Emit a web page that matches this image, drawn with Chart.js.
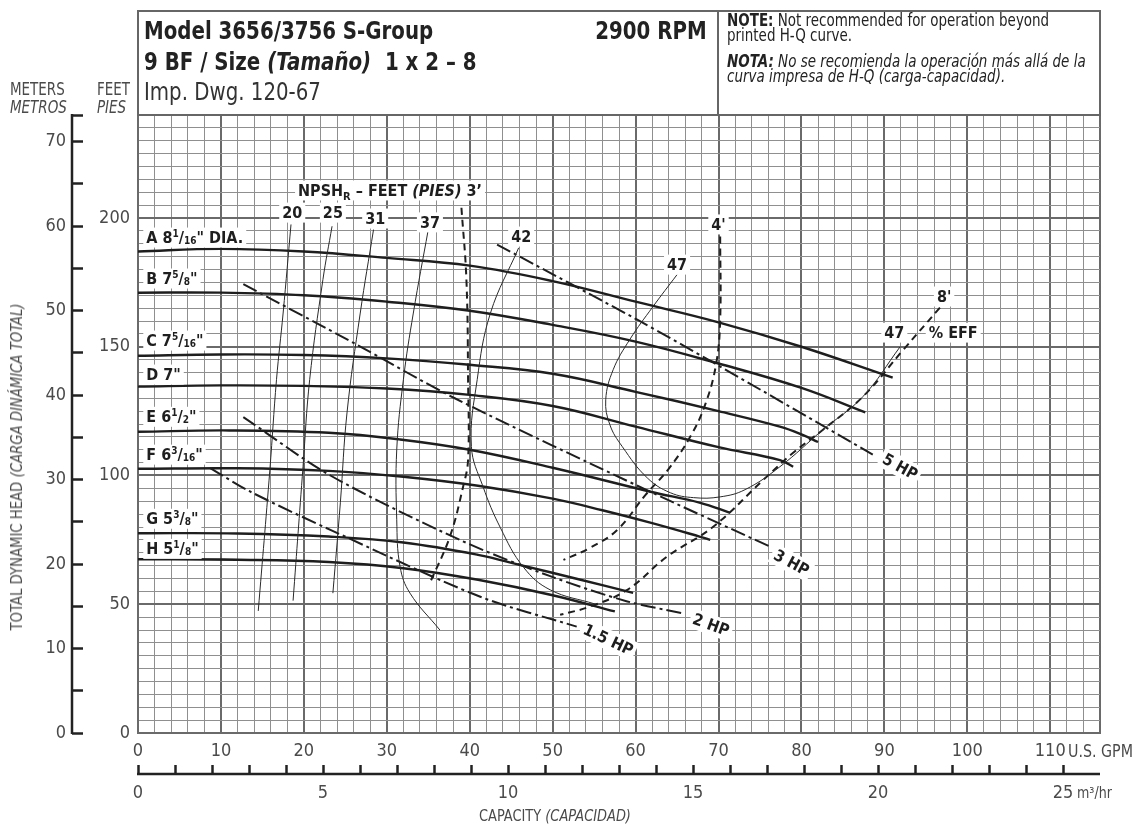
<!DOCTYPE html>
<html>
<head>
<meta charset="utf-8">
<title>Model 3656/3756 S-Group pump curve</title>
<script src="https://cdn.jsdelivr.net/npm/chart.js@4.4.1/dist/chart.umd.min.js"></script>
<style>
  body { margin: 0; background: #fff; }
  #wrap { position: relative; width: 1133px; height: 828px; color: #222;
          font-family: 'Liberation Sans Narrow', 'DejaVu Sans Condensed', 'Roboto', sans-serif; }
  #wrap canvas { position: absolute; left: 0; top: 0; }
  .t { position: absolute; white-space: nowrap; line-height: 1; transform-origin: left center; }
  .n { transform: scaleX(0.88); }
  .box { position: absolute; border: 2px solid #666; box-sizing: border-box; }
  .ax { color: #4a4a4a; }
</style>
</head>
<body>
<div id="wrap">
  <canvas id="pumpChart" width="1133" height="828"></canvas>

  <div class="box" style="left:137px;top:10px;width:964px;height:106px;"></div>
  <div class="box" style="left:717px;top:10px;width:2px;height:106px;border-width:0 0 0 2px;"></div>

  <div class="t n" style="left:144px;top:18px;font-size:25px;font-weight:bold;">Model 3656/3756 S-Group</div>
  <div class="t n" style="right:426px;top:18px;font-size:25px;font-weight:bold;transform-origin:right center;">2900 RPM</div>
  <div class="t n" style="left:144px;top:49px;font-size:25px;font-weight:bold;">9 BF / Size <i>(Tamaño)</i>&nbsp; 1 x 2 – 8</div>
  <div class="t n" style="left:144px;top:79px;font-size:25px;color:#333;">Imp. Dwg. 120-67</div>

  <div class="t n" style="left:727px;top:12px;font-size:17px;"><b>NOTE:</b> Not recommended for operation beyond</div>
  <div class="t n" style="left:727px;top:27px;font-size:17px;">printed H-Q curve.</div>
  <div class="t n" style="left:727px;top:53px;font-size:17px;font-style:italic;"><b>NOTA:</b> No se recomienda la operación más allá de la</div>
  <div class="t n" style="left:727px;top:68px;font-size:17px;font-style:italic;">curva impresa de H-Q (carga-capacidad).</div>

  <div class="t n ax" style="left:10px;top:81px;font-size:17px;">METERS</div>
  <div class="t n ax" style="left:10px;top:99px;font-size:17px;font-style:italic;">METROS</div>
  <div class="t n ax" style="left:97px;top:81px;font-size:17px;">FEET</div>
  <div class="t n ax" style="left:97px;top:99px;font-size:17px;font-style:italic;">PIES</div>

  <div class="t ax" style="left:17px;top:467px;font-size:16px;transform-origin:center;transform:translate(-50%,-50%) rotate(-90deg) scaleX(0.92);">TOTAL DYNAMIC HEAD <i>(CARGA DINÁMICA TOTAL)</i></div>
  <div class="t n ax" style="left:1068px;top:742px;font-size:18px;">U.S. GPM</div>
  <div class="t n ax" style="left:1077px;top:785px;font-size:16px;">m³/hr</div>
  <div class="t ax" style="left:555px;top:808px;font-size:16px;transform-origin:center;transform:translateX(-50%) scaleX(0.9);">CAPACITY <i>(CAPACIDAD)</i></div>
</div>

<script>
// impeller head curves, [US GPM, feet]
var headA = [[0, 187], [10, 188], [20, 187], [30, 184.5], [40, 181.5], [50, 175.5], [60, 167.5], [70, 159.5], [80, 150], [91, 138]];
var headB = [[0, 171], [10, 171], [20, 170], [30, 167.5], [40, 164], [50, 158.5], [60, 152], [70, 143.5], [80, 134], [87.7, 124.5]];
var headC = [[0, 146.5], [10, 147], [20, 146.8], [30, 145.5], [40, 143], [50, 139.5], [60, 132.5], [70, 125], [77.4, 119], [80, 116], [82, 113]];
var headD = [[0, 134.5], [10, 135], [20, 134.8], [30, 133.8], [40, 131.3], [50, 127], [60, 119], [70, 111], [77.4, 106], [79, 103.4]];
var headE = [[0, 117], [11, 117.5], [23, 116.6], [31.6, 114], [40, 110], [50, 103], [61.8, 93.7], [67.8, 89.4], [71.4, 85.5]];
var headF = [[0, 102.6], [12, 102.8], [23, 101.8], [32, 99.5], [41, 96], [50, 91], [56, 86.5], [62, 81.5], [67.8, 76.2], [69, 75]];
var headG = [[0, 77.6], [12, 77.5], [23, 76.3], [32, 74], [41, 69.2], [46.4, 65], [53, 59.8], [59.7, 54.4]];
var headH = [[0, 67.5], [12, 67.3], [23, 66.4], [32, 64], [41, 59.5], [50, 53.5], [57.5, 47.2]];

// horsepower lines
var hp5 = [[43.3, 189.7], [60.2, 160.5], [69.4, 143.8], [88.6, 108.1]];
var hp3 = [[12.7, 174.3], [26.4, 150.8], [38.2, 130], [61.3, 94.4], [76.2, 72.4]];
var hp2 = [[12.7, 122.7], [23.2, 100], [38.8, 75], [49.7, 60.9], [59, 51.1], [65.7, 46.5]];
var hp15 = [[8.7, 102.9], [13.5, 93.8], [23.2, 78.9], [41.2, 53], [52.9, 41.3]];

// efficiency curves (%)
var eff20 = [[18.45, 197.5], [17.5, 163.1], [16.7, 137.2], [15.9, 102.2], [14.5, 47.4]];
var eff25 = [[23.4, 196.8], [22.3, 176.1], [20.7, 137.2], [19.9, 103.5], [18.7, 51.4]];
var eff31 = [[28.4, 195.5], [26.8, 163.1], [25.2, 124.3], [24.4, 89.4], [23.5, 54.3]];
var eff37 = [[35, 195.5], [33.2, 163.1], [32, 137.2], [31.2, 110], [31.2, 82.8], [31.6, 64.6], [32.8, 54.3], [36.4, 40]];
var eff42 = [[45.9, 188.4], [42.5, 163.1], [40.9, 137.2], [40.2, 111.3], [41.6, 95.7], [43.7, 79.7], [46.5, 64.3], [49.7, 55.6], [55.1, 50.1]];
var eff47 = [[65, 178], [62.1, 165.6], [59.3, 152.8], [57.3, 141.1], [56.4, 129.4], [56.9, 119.7], [58.4, 111.2], [61.4, 99.1],
             [64.2, 93.3], [67, 91.4], [70.2, 91.7], [73.2, 94.5], [77.4, 103.4], [82.6, 117.8], [87.4, 130.6], [91.9, 150]];

// NPSH required lines (feet)
var npsh3 = [[39, 204], [39.6, 176.1], [39.8, 137.2], [39.8, 106.1], [39.2, 95.6], [37.6, 76.2], [35.2, 58.3]];
var npsh4 = [[70.2, 192.8], [70.2, 160.5], [69.7, 143.1], [68.4, 127.6], [66.6, 115.1], [63.9, 102.2], [61.2, 92.5], [57.8, 78.9], [54.5, 71.9], [51.3, 67.2]];
var npsh8 = [[96.7, 165.2], [92.3, 148.9], [87.4, 130.6], [82.6, 117.8], [79, 108.8], [75.4, 98.3], [69.4, 80.2], [63.8, 68.5], [59, 55.6], [54.5, 49.1], [50.9, 45.9]];

// axis ranges
var gpmMax = 116;
var feetMax = 240;
var meterMax = feetMax / 3.28084;
var m3hMax = 26;

var FONT = "'Liberation Sans Narrow', 'DejaVu Sans Condensed', 'Roboto', sans-serif";
var MAJOR = '#6a6a6a';
var MINOR = '#8f8f8f';

function line(pts, kind) {
    var ds = {
        data: pts.map(function(p) { return {x: p[0], y: p[1]}; }),
        showLine: true,
        fill: false,
        pointRadius: 0,
        borderColor: '#1e1e1e',
        borderWidth: 2.4,
        tension: 0.4
    };
    if (kind === 'eff') { ds.borderWidth = 1; ds.borderColor = '#2a2a2a'; }
    if (kind === 'npsh') { ds.borderWidth = 2; ds.borderDash = [7, 5]; }
    if (kind === 'hp') { ds.borderWidth = 2; ds.borderDash = [15, 4, 3, 4]; ds.tension = 0.3; }
    return ds;
}

function stepTicks(max, step) {
    var out = [];
    for (var v = 0; v <= max + 1e-9; v += step) out.push({value: v});
    if (out[out.length - 1].value < max - 1e-6) out.push({value: max});
    return out;
}

// in-plot labels, text runs and where they sit (GPM, feet)
var STY = {
    b: {font: 'bold 16px ' + FONT, dy: 0},
    bi: {font: 'italic bold 16px ' + FONT, dy: 0},
    sup: {font: 'bold 10px ' + FONT, dy: -4},
    sub: {font: 'bold 10px ' + FONT, dy: 3},
    subR: {font: 'bold 11px ' + FONT, dy: 6}
};
var tags = [
    {runs: [['A 8', 'b'], ['1', 'sup'], ['/', 'b'], ['16', 'sub'], ['" DIA.', 'b']], at: [1, 192.4], align: 'left'},
    {runs: [['B 7', 'b'], ['5', 'sup'], ['/', 'b'], ['8', 'sub'], ['"', 'b']], at: [1, 176.5], align: 'left'},
    {runs: [['C 7', 'b'], ['5', 'sup'], ['/', 'b'], ['16', 'sub'], ['"', 'b']], at: [1, 152.4], align: 'left'},
    {runs: [['D 7"', 'b']], at: [1, 139.2], align: 'left'},
    {runs: [['E 6', 'b'], ['1', 'sup'], ['/', 'b'], ['2', 'sub'], ['"', 'b']], at: [1, 122.8], align: 'left'},
    {runs: [['F 6', 'b'], ['3', 'sup'], ['/', 'b'], ['16', 'sub'], ['"', 'b']], at: [1, 108.1], align: 'left'},
    {runs: [['G 5', 'b'], ['3', 'sup'], ['/', 'b'], ['8', 'sub'], ['"', 'b']], at: [1, 83.2], align: 'left'},
    {runs: [['H 5', 'b'], ['1', 'sup'], ['/', 'b'], ['8', 'sub'], ['"', 'b']], at: [1, 71.5], align: 'left'},
    {runs: [['NPSH', 'b'], ['R', 'subR'], [' – FEET ', 'b'], ['(PIES)', 'bi'], [' 3’', 'b']], at: [19.3, 210.7], align: 'left'},
    {runs: [['20', 'b']], at: [18.6, 202.1]},
    {runs: [['25', 'b']], at: [23.5, 202.1]},
    {runs: [['31', 'b']], at: [28.6, 199.8]},
    {runs: [['37', 'b']], at: [35.2, 198.3]},
    {runs: [['42', 'b']], at: [46.2, 192.8]},
    {runs: [['47', 'b']], at: [65, 181.9]},
    {runs: [["4'", 'b']], at: [70, 197.5]},
    {runs: [["8'", 'b']], at: [97.2, 169.5]},
    {runs: [['47', 'b']], at: [91.2, 155.5]},
    {runs: [['% EFF', 'b']], at: [98.3, 155.5]},
    {runs: [['5 HP', 'b']], at: [91.9, 103.4], deg: 29},
    {runs: [['3 HP', 'b']], at: [78.8, 66.1], deg: 28},
    {runs: [['2 HP', 'b']], at: [69.1, 42], deg: 20},
    {runs: [['1.5 HP', 'b']], at: [56.7, 36.2], deg: 25}
];

function drawTag(ctx, tag, px, py) {
    ctx.save();
    var w = 0;
    tag.runs.forEach(function(r) { ctx.font = STY[r[1]].font; w += ctx.measureText(r[0]).width; });
    ctx.translate(px, py);
    ctx.rotate((tag.deg || 0) * Math.PI / 180);
    var x0 = tag.align === 'left' ? 0 : -w / 2;
    ctx.fillStyle = '#fff';
    ctx.fillRect(x0 - 3, -10, w + 6, 20);
    ctx.fillStyle = '#1e1e1e';
    ctx.textBaseline = 'middle';
    var cx = x0;
    tag.runs.forEach(function(r) {
        ctx.font = STY[r[1]].font;
        ctx.fillText(r[0], cx, STY[r[1]].dy + 1);
        cx += ctx.measureText(r[0]).width;
    });
    ctx.restore();
}

var extras = {
    id: 'extras',
    afterDatasetsDraw: function(chart) {
        var ctx = chart.ctx, sx = chart.scales.x, sy = chart.scales.y;
        tags.forEach(function(t) {
            drawTag(ctx, t, sx.getPixelForValue(t.at[0]), sy.getPixelForValue(t.at[1]));
        });
    },
    afterDraw: function(chart) {
        var ctx = chart.ctx, m = chart.scales.y2, c = chart.scales.x2;
        ctx.save();
        ctx.strokeStyle = '#222';
        ctx.lineWidth = 2.5;
        ctx.beginPath();
        ctx.moveTo(m.right - 11, m.top - 1);
        ctx.lineTo(m.right - 11, m.bottom + 1);
        ctx.moveTo(c.left - 1, c.top + 9);
        ctx.lineTo(c.right, c.top + 9);
        ctx.stroke();
        ctx.restore();
    }
};

document.addEventListener('DOMContentLoaded', function() {
    var tickFont = {family: FONT, size: 18};
    var ctx = document.getElementById('pumpChart').getContext('2d');
    new Chart(ctx, {
        type: 'scatter',
        data: {
            datasets: [
                line(eff20, 'eff'), line(eff25, 'eff'), line(eff31, 'eff'), line(eff37, 'eff'),
                line(eff42, 'eff'), line(eff47, 'eff'),
                line(npsh3, 'npsh'), line(npsh4, 'npsh'), line(npsh8, 'npsh'),
                line(hp5, 'hp'), line(hp3, 'hp'), line(hp2, 'hp'), line(hp15, 'hp'),
                line(headA), line(headB), line(headC), line(headD),
                line(headE), line(headF), line(headG), line(headH)
            ]
        },
        options: {
            responsive: false,
            animation: false,
            layout: {padding: {left: 20, top: 115, right: 33, bottom: 18}},
            plugins: {legend: {display: false}, tooltip: {enabled: false}},
            scales: {
                x: {
                    type: 'linear', position: 'bottom', min: 0, max: gpmMax, weight: 0,
                    afterBuildTicks: function(s) { s.ticks = stepTicks(gpmMax, 2); },
                    afterFit: function(s) { s.height = 32; },
                    ticks: {
                        autoSkip: false, maxRotation: 0, padding: 8, color: '#4a4a4a', font: tickFont,
                        callback: function(v) { return (v % 10 === 0 && v <= 110) ? v : ''; }
                    },
                    grid: {
                        drawTicks: false,
                        color: function(c) { return (c.tick.value % 10 === 0 || c.tick.value === gpmMax) ? MAJOR : MINOR; },
                        lineWidth: function(c) { return (c.tick.value % 10 === 0 || c.tick.value === gpmMax) ? 2 : 1; }
                    },
                    border: {color: MAJOR, width: 2}
                },
                x2: {
                    type: 'linear', position: 'bottom', min: 0, max: m3hMax, weight: 1,
                    afterBuildTicks: function(s) { s.ticks = stepTicks(m3hMax, 1); },
                    afterFit: function(s) { s.height = 45; },
                    ticks: {
                        autoSkip: false, maxRotation: 0, padding: 9, color: '#4a4a4a', font: tickFont,
                        callback: function(v) { return v % 5 === 0 ? v : ''; }
                    },
                    grid: {
                        drawOnChartArea: false, tickLength: 9, tickWidth: 2.5,
                        tickColor: function(c) { return c.tick.value === m3hMax ? 'rgba(0,0,0,0)' : '#222'; }
                    },
                    border: {display: false}
                },
                y: {
                    type: 'linear', position: 'left', min: 0, max: feetMax, weight: 0,
                    afterBuildTicks: function(s) { s.ticks = stepTicks(feetMax, 5); },
                    afterFit: function(s) { s.width = 55; },
                    ticks: {
                        autoSkip: false, padding: 8, color: '#4a4a4a', font: tickFont,
                        callback: function(v) { return v % 50 === 0 ? v : ''; }
                    },
                    grid: {
                        drawTicks: false,
                        color: function(c) { return (c.tick.value % 50 === 0 || c.tick.value === feetMax) ? MAJOR : MINOR; },
                        lineWidth: function(c) { return (c.tick.value % 50 === 0 || c.tick.value === feetMax) ? 2 : 1; }
                    },
                    border: {color: MAJOR, width: 2}
                },
                y2: {
                    type: 'linear', position: 'left', min: 0, max: meterMax, weight: 1,
                    afterBuildTicks: function(s) { s.ticks = stepTicks(meterMax, 5); },
                    afterFit: function(s) { s.width = 63; },
                    ticks: {
                        autoSkip: false, padding: 6, color: '#4a4a4a', font: tickFont,
                        callback: function(v) { return (Math.abs(v % 10) < 1e-6) ? v : ''; }
                    },
                    grid: {drawOnChartArea: false, tickLength: 11, tickWidth: 2.5, tickColor: '#222'},
                    border: {display: false}
                }
            }
        },
        plugins: [extras]
    });
});
</script>
</body>
</html>
